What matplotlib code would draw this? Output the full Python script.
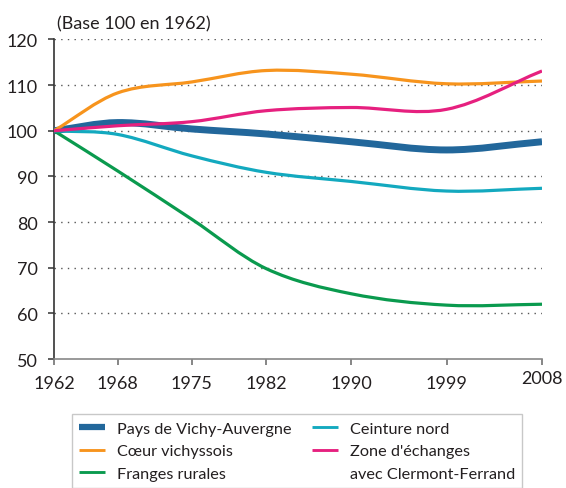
import numpy as np
import matplotlib
matplotlib.use("Agg")
import matplotlib.pyplot as plt
from matplotlib.path import Path
from matplotlib.patches import PathPatch
from matplotlib.lines import Line2D

plt.rcParams['font.family'] = ['Lato', 'DejaVu Sans']

# recensements
annees = [1962, 1968, 1975, 1982, 1990, 1999, 2008]

pays_vichy = [100, 101.8, 100.4, 99.3, 97.6, 95.8, 97.6]
coeur = [100, 108.3, 110.7, 113.2, 112.4, 110.3, 110.9]
franges = [100, 91.2, 80.6, 69.8, 64.3, 61.8, 62.0]
ceinture = [100, 99.2, 94.5, 90.9, 88.9, 86.8, 87.4]
zone_echanges = [100, 101.1, 102.0, 104.4, 105.1, 104.7, 113.1]

noms = ["Pays de Vichy-Auvergne", "Cœur vichyssois", "Franges rurales",
        "Ceinture nord", "Zone d'échanges"]
couleurs = ["#22679b", "#f7941d", "#0a9a4e", "#13a9bf", "#e6207f"]
epaisseurs = [5.0, 2.3, 2.3, 2.3, 2.3]
y_ticks = [50, 60, 70, 80, 90, 100, 110, 120]


def courbe_lisse(x, y):
    # courbe de Hermite (Bezier cubique) passant par les points
    x = np.asarray(x, float)
    y = np.asarray(y, float)
    n = len(x)
    pente = np.zeros(n)
    pente[0] = (y[1] - y[0]) / (x[1] - x[0])
    pente[-1] = (y[-1] - y[-2]) / (x[-1] - x[-2])
    for i in range(1, n - 1):
        pente[i] = (y[i + 1] - y[i - 1]) / (x[i + 1] - x[i - 1])
    verts = [(x[0], y[0])]
    codes = [Path.MOVETO]
    for i in range(n - 1):
        h = x[i + 1] - x[i]
        verts += [(x[i] + h / 3, y[i] + pente[i] * h / 3),
                  (x[i + 1] - h / 3, y[i + 1] - pente[i + 1] * h / 3),
                  (x[i + 1], y[i + 1])]
        codes += [Path.CURVE4] * 3
    return Path(verts, codes)


fig = plt.figure(figsize=(5.66, 4.89), dpi=100)
ax = fig.add_axes([0.0954, 0.2638, 0.8622, 0.6534])

series = [pays_vichy, coeur, franges, ceinture, zone_echanges]
for k in range(5):
    p = PathPatch(courbe_lisse(annees, series[k]), fill=False,
                  edgecolor=couleurs[k], linewidth=epaisseurs[k],
                  capstyle='butt', joinstyle='round', zorder=3 + k)
    ax.add_patch(p)

ax.set_xlim(1962, 2008)
ax.set_ylim(50, 120)
ax.set_xticks(annees)
ax.set_yticks(y_ticks)

for v in y_ticks[1:]:
    ax.axhline(v, color='#555555', linewidth=1.0, linestyle=(0, (1, 3.8)),
               zorder=1)

for s in ['top', 'right']:
    ax.spines[s].set_visible(False)
ax.spines['left'].set_color('#333333')
ax.spines['left'].set_linewidth(1.2)
ax.spines['bottom'].set_color('#888888')
ax.spines['bottom'].set_linewidth(1.2)

ax.tick_params(axis='y', direction='out', length=4.5, width=1.1,
               color='#333333', labelsize=13, labelcolor='#231f20', pad=7)
ax.tick_params(axis='x', direction='out', length=4.5, width=1.1,
               color='#666666', labelsize=13, labelcolor='#231f20', pad=7)
ax.xaxis.get_major_ticks()[-1].set_pad(3.5)

fig.text(57 / 566, 1 - 24 / 489, "(Base 100 en 1962)", fontsize=13,
         color='#231f20', va='center', ha='left')

handles = [Line2D([], [], color=couleurs[k], linewidth=epaisseurs[k] * 0.9,
                  solid_capstyle='butt') for k in range(5)]
handles.append(Line2D([], [], color='none'))
labels = noms + ["avec Clermont-Ferrand"]
leg = fig.legend(handles, labels, loc='upper left',
                 bbox_to_anchor=(72 / 566, 1 - 415 / 489), ncol=2,
                 fontsize=11.7, frameon=True, fancybox=False,
                 edgecolor='#bbbbbb', handlelength=1.6, handletextpad=0.7,
                 columnspacing=1.3, labelspacing=0.5, borderpad=0.45,
                 borderaxespad=0)
for t in leg.get_texts():
    t.set_color('#231f20')

fig.savefig("out.png", dpi=100)
